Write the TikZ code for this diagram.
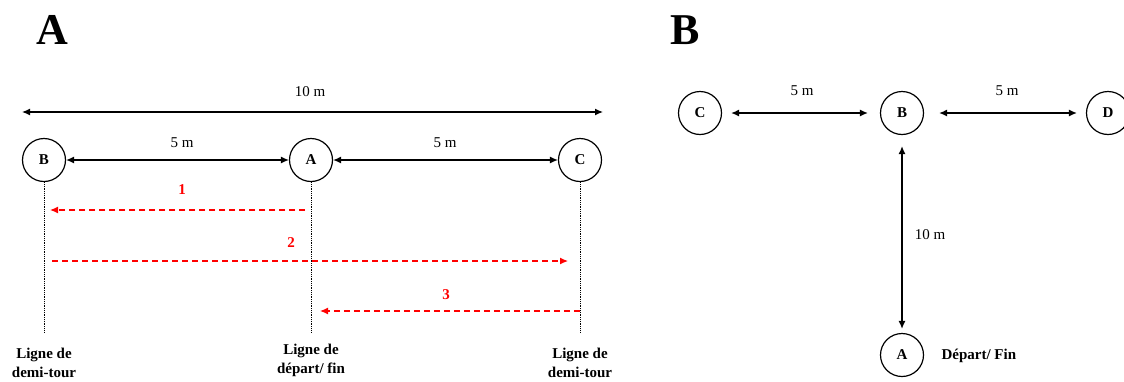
\documentclass[tikz,border=0pt]{standalone}
\usepackage{fontspec}
\setmainfont{Liberation Serif}
\usetikzlibrary{arrows,arrows.meta}

\tikzset{
  plot/.style={draw, circle, line width=1.2pt, minimum size=43pt, inner sep=0pt,
    font=\fontsize{15}{18}\selectfont\bfseries},
  dist/.style={{Latex[length=8pt,width=7pt]}-{Latex[length=8pt,width=7pt]}, line width=1.3pt},
  run/.style={-{Latex[length=8pt,width=7pt]}, red, line width=1.2pt, dash pattern=on 6pt off 4pt},
  mark line/.style={densely dotted, line width=0.8pt},
  lab/.style={font=\fontsize{15}{18}\selectfont},
  rlab/.style={red, font=\fontsize{15}{18}\selectfont\bfseries},
  blab/.style={align=center, font=\fontsize{15}{19}\selectfont\bfseries},
  panel/.style={font=\fontsize{44}{48}\selectfont\bfseries}
}

\begin{document}
\begin{tikzpicture}[x=1pt,y=-1pt]
        \useasboundingbox (0,0) rectangle (1124,381);

        \node[panel] at (52,30) {A};
        \node[panel] at (685,30) {B};

        \node[plot] (bA) at (44,160) {B};
        \node[plot] (aA) at (311,160) {A};
        \node[plot] (cA) at (580,160) {C};

        \coordinate (topL) at (22,112);
        \coordinate (topR) at (603,112);
        \draw[dist] (topL) -- (topR);
        \node[lab] at (310,92) {10 m};

        \draw[dist] (bA) -- (aA);
        \draw[dist] (aA) -- (cA);
        \node[lab] at (182,143) {5 m};
        \node[lab] at (445,143) {5 m};

        \coordinate (bAend) at (44,332);
        \coordinate (aAend) at (311,332);
        \coordinate (cAend) at (580,332);
        \draw[mark line] (bA) -- (bAend);
        \draw[mark line] (aA) -- (aAend);
        \draw[mark line] (cA) -- (cAend);

        \coordinate (r1s) at (305,210);
        \coordinate (r1e) at (50,210);
        \coordinate (r2s) at (52,261);
        \coordinate (r2e) at (568,261);
        \coordinate (r3s) at (580,311);
        \coordinate (r3e) at (320,311);
        \draw[run] (r1s) -- (r1e);
        \draw[run] (r2s) -- (r2e);
        \draw[run] (r3s) -- (r3e);
        \node[rlab] at (182,190) {1};
        \node[rlab] at (291,243) {2};
        \node[rlab] at (446,295) {3};

        \node[blab] at (44,363) {Ligne de\\demi-tour};
        \node[blab] at (311,360) {Ligne de\\départ/ fin};
        \node[blab] at (580,363) {Ligne de\\demi-tour};

        \node[plot] (cB) at (700,113) {C};
        \node[plot] (bB) at (902,113) {B};
        \node[plot] (dB) at (1108,113) {D};
        \node[plot] (aB) at (902,355) {A};

        \draw[dist, shorten <=9pt, shorten >=12pt] (cB) -- (bB);
        \draw[dist, shorten <=15pt, shorten >=9pt] (bB) -- (dB);
        \draw[dist, shorten <=11pt, shorten >=4pt] (bB) -- (aB);
        \node[lab] at (802,91) {5 m};
        \node[lab] at (1007,91) {5 m};
        \node[lab] at (930,235) {10 m};
        \node[blab, right] at (938,356) {Départ/ Fin};
    \end{tikzpicture}
\end{document}
